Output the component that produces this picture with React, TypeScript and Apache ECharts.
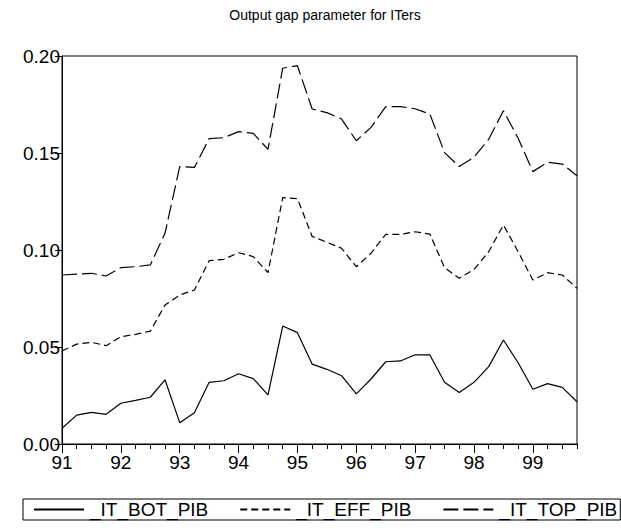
import React, { useEffect, useRef } from "react";
import * as echarts from "echarts";

const years = ["91", "92", "93", "94", "95", "96", "97", "98", "99"];
const quarters = ["Q1", "Q2", "Q3", "Q4"];
const categories: string[] = [];
years.forEach((y) => quarters.forEach((q) => categories.push(y + q)));

const itBot = [
  0.0081, 0.0149, 0.0163, 0.0153, 0.021, 0.0225, 0.0241, 0.0331, 0.011, 0.0161, 0.0318, 0.0326,
  0.0362, 0.0337, 0.0253, 0.0608, 0.0574, 0.0412, 0.0385, 0.0352, 0.0258, 0.0335, 0.0424, 0.0428,
  0.046, 0.0459, 0.0318, 0.0266, 0.0318, 0.0399, 0.0536, 0.0419, 0.0282, 0.0311, 0.0292, 0.0218,
];
const itEff = [
  0.0479, 0.0515, 0.0524, 0.0507, 0.0553, 0.0565, 0.0582, 0.0716, 0.0768, 0.0794, 0.0945, 0.0952,
  0.0986, 0.0966, 0.0883, 0.127, 0.1265, 0.107, 0.104, 0.1009, 0.0914, 0.0983, 0.1081, 0.1081,
  0.1094, 0.1082, 0.0909, 0.0854, 0.09, 0.0991, 0.1129, 0.0991, 0.0845, 0.0883, 0.0871, 0.0803,
];
const itTop = [
  0.0871, 0.0876, 0.088, 0.0866, 0.0909, 0.0914, 0.0923, 0.1086, 0.143, 0.1426, 0.1574, 0.1579,
  0.161, 0.1601, 0.1519, 0.1937, 0.195, 0.1727, 0.1708, 0.1675, 0.1563, 0.1632, 0.1739, 0.1739,
  0.1728, 0.1701, 0.1502, 0.143, 0.1478, 0.1571, 0.1718, 0.1576, 0.1404, 0.1452, 0.1443, 0.1383,
];
const seriesNames = ["_IT_BOT_PIB", "_IT_EFF_PIB", "_IT_TOP_PIB"];
const yTicks = [0, 0.05, 0.1, 0.15, 0.2];

const FONT = "'Liberation Sans', Arial, sans-serif";

export default function App() {
  const ref = useRef<HTMLDivElement>(null);
  useEffect(() => {
    if (!ref.current) return;
    const chart = echarts.init(ref.current, undefined, { renderer: "svg" });
    const lineBase = { color: "#000", width: 1.2 };
    chart.setOption({
      animation: false,
      backgroundColor: "#fff",
      textStyle: { fontFamily: FONT, color: "#000" },
      title: {
        text: "Output gap parameter for ITers",
        left: 320,
        top: 3,
        textAlign: "center",
        textStyle: { fontFamily: FONT, fontSize: 14, fontWeight: "normal", color: "#000" },
      },
      grid: {
        left: 62,
        right: 44,
        top: 56,
        bottom: 85,
        show: true,
        borderColor: "#000",
        borderWidth: 1,
        backgroundColor: "transparent",
      },
      legend: {
        left: 23,
        top: 499,
        width: 598,
        orient: "horizontal",
        borderColor: "#000",
        borderWidth: 1,
        borderRadius: 0,
        padding: [1, 3, 1, 10],
        itemGap: 31,
        itemWidth: 50,
        itemHeight: 10,
        itemStyle: { opacity: 0 },
        textStyle: { fontFamily: FONT, fontSize: 19, color: "#000", padding: [0, 0, 0, 1] },
        data: seriesNames,
      },
      xAxis: [
        {
          type: "category",
          data: categories,
          boundaryGap: false,
          position: "bottom",
          axisLine: { show: true, lineStyle: { color: "#000", width: 1 } },
          axisTick: { show: true, interval: 0, length: 5, lineStyle: { color: "#000" } },
          axisLabel: {
            interval: 3,
            fontFamily: FONT,
            fontSize: 19,
            color: "#000",
            margin: 9,
            formatter: (v: string) => v.slice(0, 2),
          },
          splitLine: { show: false },
        },
        {
          type: "category",
          data: categories,
          boundaryGap: false,
          position: "bottom",
          axisLine: { show: false },
          axisTick: { show: true, interval: 3, length: 9, lineStyle: { color: "#000" } },
          axisLabel: { show: false },
          splitLine: { show: false },
        },
      ],
      yAxis: {
        type: "value",
        min: yTicks[0],
        max: yTicks[yTicks.length - 1],
        interval: 0.05,
        axisLine: { show: true, lineStyle: { color: "#000", width: 1 } },
        axisTick: { show: true, length: 7, lineStyle: { color: "#000" } },
        axisLabel: {
          fontFamily: FONT,
          fontSize: 19,
          color: "#000",
          margin: 2,
          formatter: (v: number) => v.toFixed(2),
        },
        splitLine: { show: false },
      },
      series: [
        {
          name: seriesNames[0],
          type: "line",
          data: itBot,
          symbol: "none",
          lineStyle: { ...lineBase, type: "solid" },
          itemStyle: { color: "#000" },
        },
        {
          name: seriesNames[1],
          type: "line",
          data: itEff,
          symbol: "none",
          lineStyle: { ...lineBase, type: [7, 4] },
          itemStyle: { color: "#000" },
        },
        {
          name: seriesNames[2],
          type: "line",
          data: itTop,
          symbol: "none",
          lineStyle: { ...lineBase, type: [15, 5] },
          itemStyle: { color: "#000" },
        },
      ],
    });
    return () => chart.dispose();
  }, []);
  return (
    <div
      ref={ref}
      style={{ position: "fixed", left: 0, top: 0, width: 621, height: 529, background: "#fff" }}
    />
  );
}
